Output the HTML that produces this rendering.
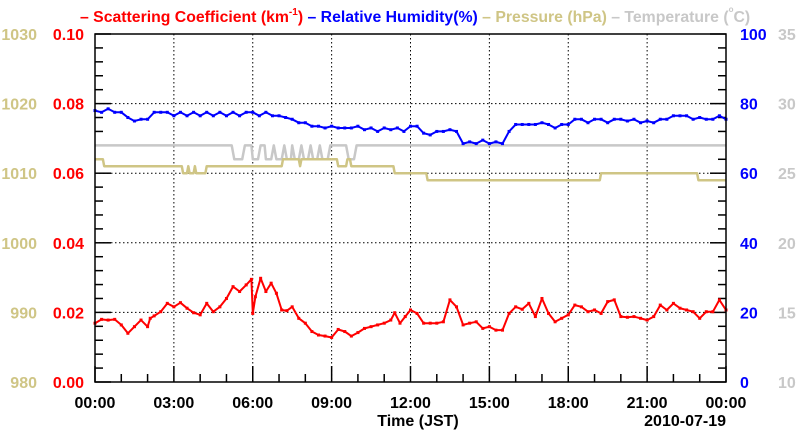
<!DOCTYPE html>
<html><head><meta charset="utf-8"><style>
body{margin:0;background:#fff}
svg{display:block;font-family:"Liberation Sans",Arial,sans-serif;font-weight:bold}
</style></head><body>
<svg id="c" width="800" height="434" viewBox="0 0 800 434">
<text x="80" y="22" font-size="15.8"><tspan fill="#f00">– Scattering Coefficient (km</tspan><tspan fill="#f00" font-size="10" dy="-7">-1</tspan><tspan fill="#f00" dy="7">) </tspan><tspan fill="#00f">– Relative Humidity(%) </tspan><tspan fill="#cfc585">– Pressure (hPa) </tspan><tspan fill="#c8c8c8">– Temperature (</tspan><tspan fill="#c8c8c8" font-size="8" dy="-10">o</tspan><tspan fill="#c8c8c8" dy="10">C)</tspan></text>
</svg>
<script>
const xTicks=["00:00","03:00","06:00","09:00","12:00","15:00","18:00","21:00","00:00"];
const scatTicks=["0.00","0.02","0.04","0.06","0.08","0.10"];
const presTicks=["980","990","1000","1010","1020","1030"];
const rhTicks=["0","20","40","60","80","100"];
const tempTicks=["10","15","20","25","30","35"];
const scatT=[0,.25,.5,.75,1,1.25,1.5,1.75,2,2.1,2.25,2.5,2.75,3,3.25,3.5,3.75,4,4.25,4.5,4.75,5,5.25,5.5,5.75,5.95,6,6.1,6.3,6.5,6.7,6.9,7.1,7.3,7.5,7.75,8,8.25,8.5,8.75,9,9.25,9.5,9.75,10,10.25,10.5,10.75,11,11.25,11.4,11.6,11.8,12,12.25,12.5,12.75,13,13.25,13.5,13.75,14,14.25,14.5,14.75,15,15.25,15.5,15.75,16,16.25,16.5,16.75,17,17.25,17.5,17.75,18,18.25,18.5,18.75,19,19.25,19.5,19.75,20,20.25,20.5,20.75,21,21.25,21.5,21.75,22,22.25,22.5,22.75,23,23.25,23.5,23.75,24];
const scatV=[.0169,.018,.0178,.018,.0164,.014,.0159,.0178,.0159,.0183,.019,.0202,.0226,.0216,.0228,.0212,.0199,.0193,.0226,.0202,.0216,.024,.0274,.026,.0279,.0295,.0197,.0245,.0298,.026,.0284,.0255,.0207,.0205,.0216,.0183,.0169,.0145,.0135,.0132,.0128,.0151,.0145,.0132,.0142,.0154,.0159,.0164,.0169,.0178,.0199,.0169,.0188,.0207,.0197,.0169,.0169,.0169,.0173,.0236,.0216,.0164,.0169,.0173,.0154,.0159,.0149,.0149,.0197,.0216,.0209,.0226,.0188,.024,.0197,.0173,.0183,.0193,.0221,.0216,.0202,.0207,.0197,.0231,.0236,.0188,.0186,.0188,.0183,.0178,.0188,.0221,.0207,.0226,.0212,.0207,.0202,.0183,.0202,.0202,.0236,.0207];
const rhV=[78,77.5,78.5,77.5,77.5,76,75,75.5,75.5,77.5,77.5,77.5,76.5,77.5,76.5,77.5,76.5,77.5,76.5,77.5,76.5,77.5,76.5,77.5,77.5,76.5,77.5,76.5,76.5,76,75.5,74.5,74.5,73.5,73.5,73,73.5,73,73,73,73.5,72.5,73,72,73,72.5,73,72,73.5,73.5,71.5,71,72,72,72.5,72,68.5,69,68.5,69.5,68.5,69,68.5,72,74,74,74,74,74.5,74,73,74,74,75.5,75.5,74.5,75.5,75.5,74.5,75.5,75.5,75,75.5,74.5,75,74.5,75.5,75.5,76.5,76.5,76.5,75.5,76,75.5,75.5,76.5,75.5];
const presT=[0,.3,.35,3.3,3.35,3.5,3.55,3.6,3.75,3.8,3.85,4.2,4.25,4.8,4.85,7.1,7.15,7.75,7.8,7.85,9.2,9.25,9.55,9.6,9.7,9.75,9.8,11.35,11.4,12.6,12.65,19.2,19.25,22.9,22.95,24];
const presV=[1012,1012,1011,1011,1010,1010,1011,1010,1010,1011,1010,1010,1011,1011,1011,1011,1012,1012,1011,1012,1012,1011,1011,1012,1012,1011,1011,1011,1010,1010,1009,1009,1010,1010,1009,1009];
const tempT=[0,5.2,5.3,5.6,5.7,5.95,6,6.2,6.3,6.45,6.5,6.7,6.8,6.9,7.1,7.2,7.3,7.45,7.5,7.6,7.75,7.85,7.95,8.1,8.2,8.3,8.45,8.55,8.65,8.85,8.95,9.55,9.65,9.85,9.95,24];
const tempV=[27,27,26,26,27,27,26,26,27,27,26,26,27,26,26,27,26,26,27,26,26,27,26,26,27,26,26,27,26,26,27,27,26,26,27,27];

const L=95,R=726,T=34,B=382,NS="http://www.w3.org/2000/svg",svg=document.getElementById('c');
const X=h=>L+(R-L)*h/24;
const Ys=v=>B-(B-T)*v/0.10, Yp=v=>B-(B-T)*(v-980)/50, Yh=v=>B-(B-T)*v/100, Yt=v=>B-(B-T)*(v-10)/25;
function el(tag,a){const e=document.createElementNS(NS,tag);for(const k in a)e.setAttribute(k,a[k]);svg.appendChild(e);return e;}
for(let i=1;i<8;i++){const g=el('line',{x1:X(i*3),x2:X(i*3),y1:T,y2:B,stroke:'#000','stroke-width':1,'stroke-dasharray':'1.5,2.5'});

}
for(let i=1;i<5;i++){const g=el('line',{x1:L,x2:R,y1:Ys(i*0.02),y2:Ys(i*0.02),stroke:'#000','stroke-width':1,'stroke-dasharray':'1.5,2.5'});

}
for(let i=0;i<=24;i++){const len=i%3?8:16;el('line',{x1:X(i),x2:X(i),y1:B,y2:B-len,stroke:'#000','stroke-width':1.5});}
for(let i=0;i<=25;i++){const y=B-(B-T)*i/25,len=i%5?8:16;el('line',{x1:L,x2:L+len,y1:y,y2:y,stroke:'#000','stroke-width':1.5});el('line',{x1:R,x2:R-len,y1:y,y2:y,stroke:'#000','stroke-width':1.5});}
function poly(xs,ys,color,name,mark,w){
 const pts=xs.map((x,i)=>x.toFixed(1)+','+ys[i].toFixed(1)).join(' ');
 const p=el('polyline',{points:pts,fill:'none',stroke:color,'stroke-width':w,'stroke-linejoin':'round'});
 
 
 if(mark)xs.forEach((x,i)=>el('rect',{x:x-1.5,y:ys[i]-1.5,width:3,height:3,fill:color}));
}
poly(tempT.map(X),tempV.map(Yt),'#c8c8c8','temperature-line',false,2.5);
poly(presT.map(X),presV.map(Yp),'#cfc585','pressure-line',false,2.5);
poly(rhV.map((v,i)=>X(i*0.25)),rhV.map(Yh),'#0000ff','humidity-line',true,2);
poly(scatT.map(X),scatV.map(Ys),'#ff0000','scattering-line',true,2);
el('rect',{x:L,y:T,width:R-L,height:B-T,fill:'none',stroke:'#000','stroke-width':1.5});
function txt(s,x,y,anchor,color,name){const t=el('text',{x:x,y:y,'text-anchor':anchor,fill:color,'font-size':16});t.textContent=s;

}
xTicks.forEach((s,i)=>txt(s,X(i*3),408,'middle','#000','x-tick-label'));
scatTicks.forEach((s,i)=>txt(s,84,Ys(i*0.02)+6,'end','#f00','scattering-tick-label'));
presTicks.forEach((s,i)=>txt(s,37,Yp(980+i*10)+6,'end','#cfc585','pressure-tick-label'));
rhTicks.forEach((s,i)=>txt(s,740,Yh(i*20)+6,'start','#00f','humidity-tick-label'));
tempTicks.forEach((s,i)=>txt(s,778,Yt(10+i*5)+6,'start','#c8c8c8','temperature-tick-label'));
txt('Time (JST)',418,426,'middle','#000','x-axis-title');
txt('2010-07-19',726,426,'end','#000','date-label');
</script>
</body></html>
